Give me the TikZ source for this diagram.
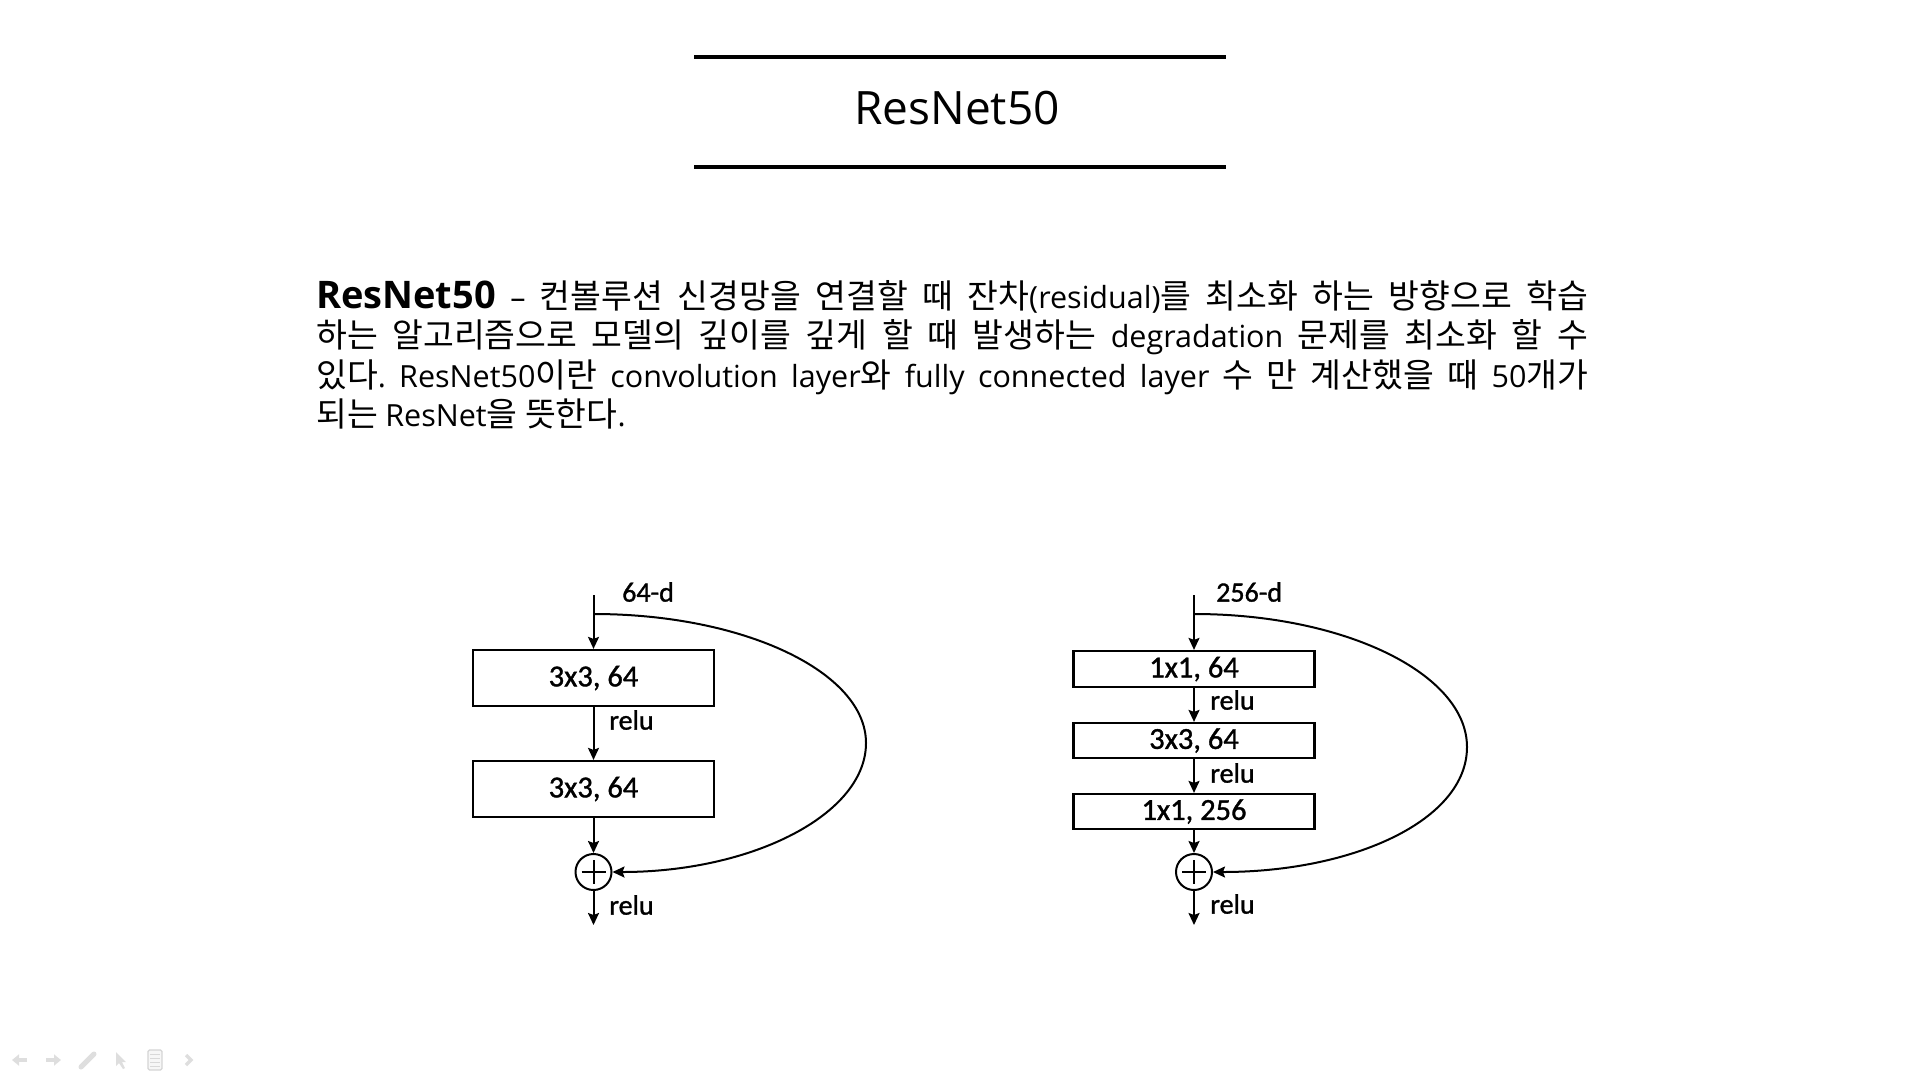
\documentclass[tikz,border=0pt]{standalone}
\usepackage{fontspec}
\setmainfont{Noto Sans CJK KR}
\newfontfamily\lat{Open Sans}
\newfontfamily\calib[FakeBold=1.2]{Carlito}
\newcommand\en[1]{{\lat\fontsize{30.5}{40}\selectfont #1}}
\usetikzlibrary{arrows.meta,calc}
\frenchspacing

\begin{document}
\begin{tikzpicture}[x=1pt,y=-1pt,
  conv/.style={draw, line width=2.2pt, minimum width=241pt, inner sep=0pt,
    font=\calib\fontsize{30.5}{34}\selectfont},
  lbl/.style={font=\calib\fontsize{28}{30}\selectfont, inner sep=0pt, anchor=west},
  flow/.style={line width=2pt, -{Stealth[length=12pt,width=11pt,inset=2pt]}},
  sum/.style={draw, circle, line width=2pt, minimum size=36pt, inner sep=0pt},
  rule/.style={line width=3.3pt}
]
\useasboundingbox (0,0) rectangle (1920,1080);

% title with rules above and below
\draw[rule] (694,57) -- (1226,57);
\draw[rule] (694,167) -- (1226,167);
\node[font=\lat\fontsize{46}{50}\selectfont, inner sep=0pt, anchor=base] (title) at (957,124) {ResNet50};

% description paragraph
\node[anchor=base west, inner sep=0pt, text width=1272pt, align=justify,
      font=\fontsize{33.5}{39.5}\selectfont] (desc) at (316,308)
{{\lat\fontsize{38}{40}\bfseries ResNet50} \en{–} 컨볼루션 신경망을 연결할 때 잔차\en{(residual)}를 최소화 하는 방향으로 학습\linebreak
하는 알고리즘으로 모델의 깊이를 깊게 할 때 발생하는 \en{degradation} 문제를 최소화 할 수\linebreak
있다\en{.} \en{ResNet50}이란 \en{convolution} \en{layer}와 \en{fully} \en{connected} \en{layer} 수 만 계산했을 때 \en{50}개가\linebreak
되는 \en{ResNet}을 뜻한다\en{.}\par};

% ---------- basic block (64-d) ----------
\coordinate (ain) at (593.5,595);
\coordinate (asplit) at (593.5,614);
\coordinate (aout) at (593.5,925);
\node[conv, minimum height=56pt] (a1) at (593.5,678) {3x3, 64};
\node[conv, minimum height=56pt] (a2) at (593.5,789) {3x3, 64};
\node[sum] (aplus) at (593.5,872) {};
\draw[line width=2pt] ($(aplus)+(-12,0)$) -- ($(aplus)+(12,0)$)
                      ($(aplus)+(0,-12)$) -- ($(aplus)+(0,12)$);
\node[lbl] (ad) at (622,592) {64-d};
\node[lbl] (ar1) at (609,720) {relu};
\node[lbl] (ar2) at (609,905) {relu};
\draw[line width=2pt] (ain) -- (asplit);
\draw[flow] (asplit) -- (a1);
\draw[flow] (a1) -- (a2);
\draw[flow] (a2) -- (aplus);
\draw[flow] (aplus) -- (aout);
\draw[flow] (asplit) .. controls (744,614) and (866,672) .. (866,743)
                     .. controls (866,814) and (753,872) .. (aplus.east);

% ---------- bottleneck block (256-d) ----------
\coordinate (bin) at (1194,595);
\coordinate (bsplit) at (1194,614);
\coordinate (bout) at (1194,925);
\node[conv, minimum height=36pt] (b1) at (1194,669) {1x1, 64};
\node[conv, minimum height=35pt] (b2) at (1194,740.5) {3x3, 64};
\node[conv, minimum height=35pt] (b3) at (1194,811.5) {1x1, 256};
\node[sum] (bplus) at (1194,872) {};
\draw[line width=2pt] ($(bplus)+(-12,0)$) -- ($(bplus)+(12,0)$)
                      ($(bplus)+(0,-12)$) -- ($(bplus)+(0,12)$);
\node[lbl] (bd) at (1216,592) {256-d};
\node[lbl] (br1) at (1210,700) {relu};
\node[lbl] (br2) at (1210,773) {relu};
\node[lbl] (br3) at (1210,904) {relu};
\draw[line width=2pt] (bin) -- (bsplit);
\draw[flow] (bsplit) -- (b1);
\draw[flow] (b1) -- (b2);
\draw[flow] (b2) -- (b3);
\draw[flow] (b3) -- (bplus);
\draw[flow] (bplus) -- (bout);
\draw[flow] (bsplit) .. controls (1345,614) and (1467,674) .. (1467,747)
                     .. controls (1467,820) and (1354,872) .. (bplus.east);

% ---------- faint slide-show toolbar ----------
\draw[draw=black!13, line width=4pt, -{Triangle[length=7pt,width=11pt]}] (27,1060) -- (12,1060);
\draw[draw=black!13, line width=4pt, -{Triangle[length=7pt,width=11pt]}] (46,1060) -- (61,1060);
\draw[draw=black!13, line width=5pt, line cap=round] (81,1067) -- (94,1054);
\fill[black!13] (116,1052) -- (116,1066) -- (119,1063) -- (123,1069) -- (125,1068) -- (122,1062) -- (126,1062) -- cycle;
\draw[black!17, line width=1.2pt, rounded corners=1.5pt, fill=black!3] (148,1050) rectangle (162,1070);
\foreach \yy in {1054,1058,1062,1066}
  \draw[black!15, line width=1pt] (150,\yy) -- (160,\yy);
\draw[draw=black!13, line width=3.5pt] (186,1055) -- (191,1060) -- (186,1065);
\end{tikzpicture}
\end{document}
